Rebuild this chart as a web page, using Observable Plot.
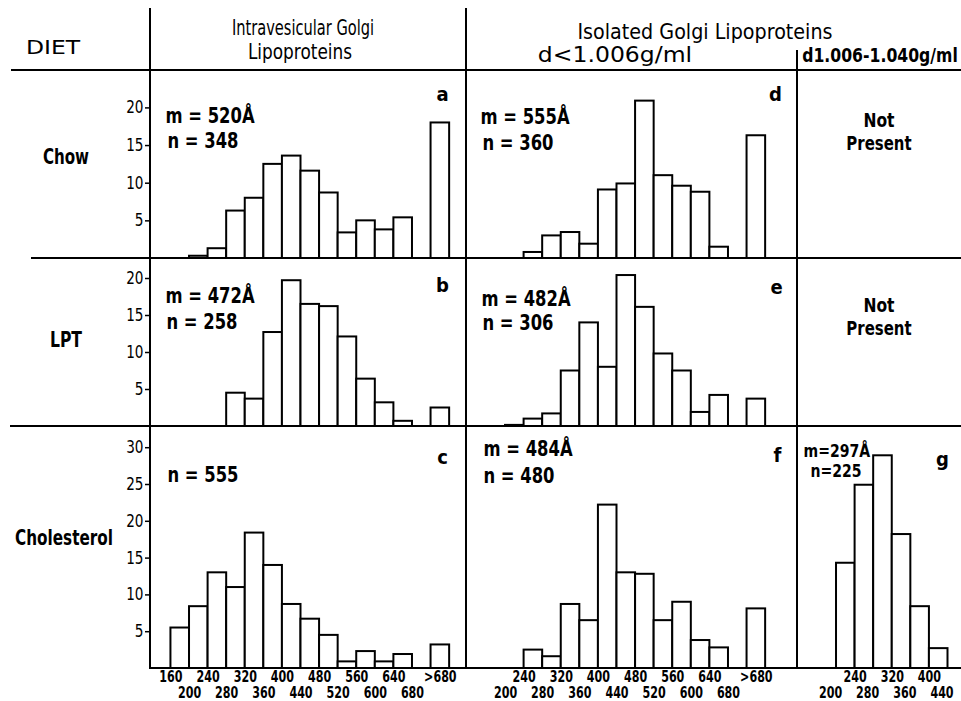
<!DOCTYPE html>
<html><head><meta charset="utf-8">
<script src="https://cdn.jsdelivr.net/npm/d3@7"></script>
<script src="https://cdn.jsdelivr.net/npm/@observablehq/plot@0.6"></script>
<style>
body{margin:0;background:#fff}
#root{position:relative;width:961px;height:701px;overflow:hidden;background:#fff;font-family:"DejaVu Sans",sans-serif;color:#000}
.t{position:absolute;white-space:nowrap;line-height:1;transform:translate(-50%,-50%)}
.ln{position:absolute;background:#000}
#root svg{position:absolute;overflow:visible}
</style></head><body><div id="root"></div>
<script>
// ---------- data ----------
const binStarts = [160,200,240,280,320,360,400,440,480,520,560,600,640];
const binStartsG = [200,240,280,320,360,400];
const binWidth = 40;
const overflowLabel = ">680";

// percent of particles per 40 Å bin (160-200 ... 640-680), then ">680"
const chowIntra      = [0,0.3,1.3,6.3,8.0,12.5,13.6,11.6,8.7,3.4,5.0,3.8,5.4];
const chowIntraOver  = 18.0;
const lptIntra       = [0,0,0,4.5,3.7,12.7,19.7,16.5,16.2,12.1,6.4,3.2,0.7];
const lptIntraOver   = 2.5;
const cholIntra      = [5.5,8.4,13.0,11.0,18.4,14.0,8.7,6.7,4.5,0.9,2.3,0.9,1.9];
const cholIntraOver  = 3.2;
const chowIsoVLDL    = [0,0,0.8,3.0,3.45,1.9,9.1,9.9,20.9,11.0,9.6,8.8,1.5];
const chowIsoVLDLOver= 16.3;
const lptIsoVLDL     = [0,0.15,1.0,1.7,7.5,14.0,8.0,20.4,16.1,9.8,7.5,1.9,4.2];
const lptIsoVLDLOver = 3.7;
const cholIsoVLDL    = [0,0,2.5,1.6,8.7,6.5,22.2,13.0,12.8,6.5,9.0,3.8,2.8];
const cholIsoVLDLOver= 8.1;
const cholIsoLDL     = [14.3,24.9,28.9,18.2,8.4,2.7];   // d 1.006-1.040, bins 200-440

const ticksTopA    = [160,240,320,400,480,560,640];
const ticksBottomA = [200,280,360,440,520,600,680];
const ticksTopB    = [240,320,400,480,560,640];
const ticksBottomB = [200,280,360,440,520,600,680];
const ticksTopG    = [240,320,400];
const ticksBottomG = [200,280,360,440];
const yTicksShort  = [5,10,15,20];
const yTicksTall   = [5,10,15,20,25,30];

const headerTexts = ["DIET","Intravesicular Golgi","Lipoproteins","Isolated Golgi Lipoproteins","d<1.006g/ml","d1.006-1.040g/ml"];
const rowLabels = ["Chow","LPT","Cholesterol"];
const notPresent = ["Not","Present"];

// panel annotations
const panelLetters = ["a","b","c","d","e","f","g"];
const panelM = ["m = 520Å","m = 472Å",null,"m = 555Å","m = 482Å","m = 484Å","m=297Å"];
const panelN = ["n = 348","n = 258","n = 555","n = 360","n = 306","n = 480","n=225"];

// ---------- layout ----------
const root = document.getElementById("root");
const FONT = '"DejaVu Sans",sans-serif';
const cols = [{left:150,width:316},{left:466,width:331},{left:797,width:164}];
const rows = [{top:70,base:258,ppu:7.53},{top:258,base:426,ppu:7.4},{top:426,base:668,ppu:7.36}];
const xStart = 116, xPpu = 0.4645;

function bars(starts, vals, over){
  const out = starts.map((s,i)=>({x1:s,x2:s+binWidth,v:vals[i]})).filter(d=>d.v>0);
  if (over != null) { const o = binStarts[binStarts.length-1] + 2*binWidth; out.push({x1:o,x2:o+binWidth,v:over}); }
  return out;
}

const panels = [
  {c:0,r:0,data:bars(binStarts,chowIntra,chowIntraOver),k:0, ann:{m:[15,46],n:[17,71],l:[292,24]}},
  {c:0,r:1,data:bars(binStarts,lptIntra,lptIntraOver),k:1, ann:{m:[15,38],n:[16,64],l:[292,27]}},
  {c:0,r:2,data:bars(binStarts,cholIntra,cholIntraOver),k:2, ann:{n:[17,49],l:[292,31]}, top:ticksTopA,bottom:ticksBottomA,over:true},
  {c:1,r:0,data:bars(binStarts,chowIsoVLDL,chowIsoVLDLOver),k:3, ann:{m:[14,47],n:[16,73],l:[309,24]}},
  {c:1,r:1,data:bars(binStarts,lptIsoVLDL,lptIsoVLDLOver),k:4, ann:{m:[15,41],n:[16,65],l:[310,29]}},
  {c:1,r:2,data:bars(binStarts,cholIsoVLDL,cholIsoVLDLOver),k:5, ann:{m:[17,23],n:[17,50],l:[311,29]}, top:ticksTopB,bottom:ticksBottomB,over:true},
  {c:2,r:2,data:bars(binStartsG,cholIsoLDL,null),k:6, ann:{m:[6,25],n:[13,45],l:[145,33]}, top:ticksTopG,bottom:ticksBottomG,over:false, small:true, bdx:-6},
];

const svgs = [];
for (const p of panels){
  const col = cols[p.c], row = rows[p.r];
  const ml = p.c===0 ? 40 : 0, mb = p.r===2 ? 40 : 0;
  const h = row.base - row.top;
  const marks = [
    Plot.rectY(p.data,{x1:"x1",x2:"x2",y:"v",fill:"white",stroke:"black",strokeWidth:2})
  ];
  if (p.c===0) marks.push(Plot.axisY({ticks:p.r===2?yTicksTall:yTicksShort,tickSize:5,tickPadding:2,fontSize:17,fontFamily:FONT,strokeWidth:1.5,label:null}));
  else marks.push(Plot.axisY({ticks:[],label:null}));
  if (p.top){
    const overPos = binStarts[binStarts.length-1] + 2*binWidth + binWidth/2;
    const topT = p.over ? [...p.top, overPos] : p.top;
    marks.push(Plot.axisX({ticks:topT,tickSize:0,tickPadding:3,fontSize:15,fontWeight:"bold",fontFamily:FONT,
      tickFormat:d=>d===overPos?overflowLabel:String(d),label:null}));
    marks.push(Plot.axisX({ticks:p.bottom,tickSize:0,tickPadding:19,fontSize:15,fontWeight:"bold",fontFamily:FONT,
      dx:p.bdx||0,tickFormat:d=>String(d),label:null}));
  } else marks.push(Plot.axisX({ticks:[],label:null}));
  const fs = p.small ? 18 : 21;
  if (panelM[p.k]) marks.push(Plot.text([panelM[p.k]],{text:d=>d,frameAnchor:"top-left",dx:p.ann.m[0],dy:p.ann.m[1],textAnchor:"start",lineAnchor:"middle",fontSize:fs,fontWeight:"bold",fontFamily:FONT,className:"ann"}));
  marks.push(Plot.text([panelN[p.k]],{text:d=>d,frameAnchor:"top-left",dx:p.ann.n[0],dy:p.ann.n[1],textAnchor:"start",lineAnchor:"middle",fontSize:fs,fontWeight:"bold",fontFamily:FONT,className:"ann"}));
  marks.push(Plot.text([panelLetters[p.k]],{text:d=>d,frameAnchor:"top-left",dx:p.ann.l[0],dy:p.ann.l[1],textAnchor:"middle",lineAnchor:"middle",fontSize:19,fontWeight:"bold",fontFamily:FONT,className:"let"}));
  const svg = Plot.plot({
    width: ml + col.width, height: h + mb,
    marginLeft: ml, marginRight: 0, marginTop: 0, marginBottom: mb,
    x: {domain:[xStart, xStart + col.width/xPpu]},
    y: {domain:[0, h/row.ppu]},
    style:{fontFamily:FONT, background:"transparent", color:"black"},
    marks
  });
  svg.style.left = (col.left - ml) + "px";
  svg.style.top = row.top + "px";
  root.appendChild(svg);
  svgs.push(svg);
}

// condense SVG text horizontally (the original lettering is a narrow face)
for (const svg of svgs){
  svg.querySelectorAll("text").forEach(t => {
    let k = 0.74;
    const g = t.closest("g");
    if (g && g.classList.contains("ann")) k = 0.78;
    else if (g && g.classList.contains("let")) k = 0.95;
    else if (g && g.getAttribute("aria-label") === "y-axis tick label") k = 0.8;
    const L = t.getComputedTextLength();
    if (L > 0) { t.setAttribute("textLength", (L*k).toFixed(1)); t.setAttribute("lengthAdjust","spacingAndGlyphs"); }
  });
}

// ---------- text ----------
function txt(s, x, y, size, weight, targetW){
  const d = document.createElement("div");
  d.className = "t"; d.textContent = s;
  d.style.left = x+"px"; d.style.top = y+"px";
  d.style.fontSize = size+"px"; d.style.fontWeight = weight||"normal";
  root.appendChild(d);
  const w = d.offsetWidth;
  if (targetW && w) d.style.transform = `translate(-50%,-50%) scaleX(${(targetW/w).toFixed(3)})`;
}
txt(headerTexts[0], 53, 47, 20, "normal", 54);
txt(headerTexts[1], 303, 28, 21, "normal", 142);
txt(headerTexts[2], 300, 52, 21, "normal", 104);
txt(headerTexts[3], 705, 32, 21, "normal", 255);
txt(headerTexts[4], 615, 55, 22, "normal", 154);
txt(headerTexts[5], 880, 55, 19, "bold", 156);
txt(rowLabels[0], 66, 157, 21, "bold", 46);
txt(rowLabels[1], 66, 340, 21, "bold", 32);
txt(rowLabels[2], 64, 538, 21, "bold", 98);
txt(notPresent[0], 879, 120, 20, "bold", 31);
txt(notPresent[1], 879, 143, 20, "bold", 65);
txt(notPresent[0], 879, 305, 20, "bold", 31);
txt(notPresent[1], 879, 328, 20, "bold", 65);

// ---------- frame lines ----------
function line(x, y, w, h){
  const d = document.createElement("div"); d.className = "ln";
  d.style.left = x+"px"; d.style.top = y+"px"; d.style.width = w+"px"; d.style.height = h+"px";
  root.appendChild(d);
}
line(11, 69, 950, 2);
line(31, 257, 930, 2);
line(10, 425, 951, 2);
line(149, 667, 812, 2);
line(149, 8, 2, 661);
line(465, 8, 2, 661);
line(796, 50, 2, 619);
</script></body></html>
